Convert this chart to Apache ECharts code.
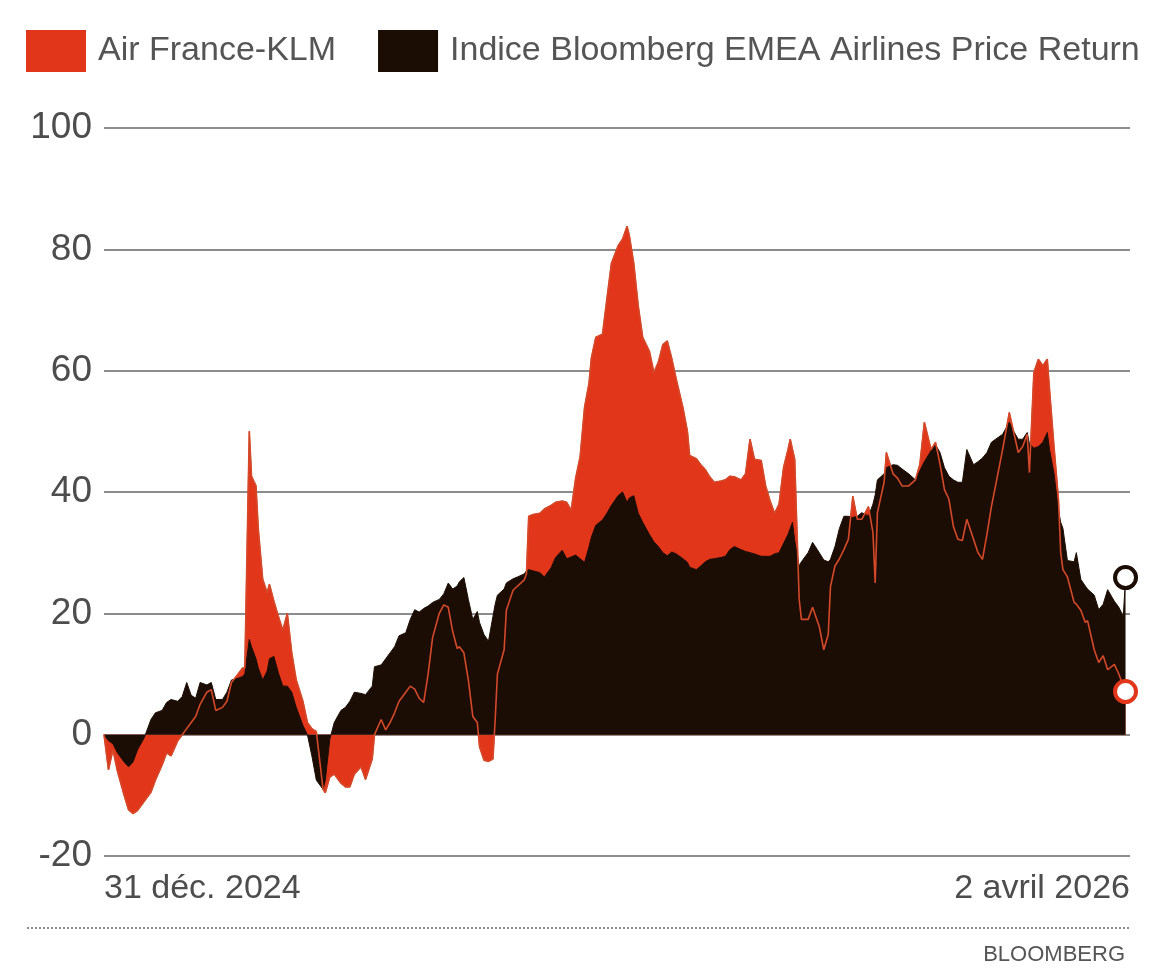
<!DOCTYPE html>
<html>
<head>
<meta charset="utf-8">
<script src="https://cdn.jsdelivr.net/npm/echarts@6/dist/echarts.min.js"></script>
<style>
  html, body { margin: 0; padding: 0; background: #fff; }
  #chart { width: 1149px; height: 969px; }
</style>
</head>
<body>
<div id="chart"></div>
<script>
// jours depuis le 31 déc. 2024
var days = [
  0,2,4,6,9,11,13,15,18,21,
  23,26,28,30,33,35,37,39,41,43,
  46,48,50,53,55,57,60,62,63,65,
  66,68,69,71,73,74,76,78,80,82,
  84,86,89,91,93,95,98,99,101,103,
  106,108,110,112,115,117,120,121,124,126,
  128,130,132,135,137,139,141,143,145,147,
  150,152,154,156,158,159,161,163,165,167,
  168,170,172,174,175,176,179,180,183,185,
  188,189,190,192,195,197,200,202,205,207,
  209,211,213,215,217,218,220,223,225,227,
  230,232,234,235,237,239,241,244,246,248,
  250,252,254,256,259,261,262,265,267,269,
  271,273,276,278,280,282,285,287,289,291,
  294,296,298,300,302,304,306,307,308,309,
  311,312,315,317,320,322,324,325,327,329,
  331,333,335,337,339,342,344,345,346,349,
  350,353,355,357,360,363,365,367,370,372,
  374,376,378,380,382,384,386,389,391,393,
  395,397,400,402,405,407,409,411,413,414,
  416,418,420,422,423,425,427,428,429,431,
  434,435,437,439,440,443,445,447,449,452,
  454,456,457
]

// Air France-KLM, variation en %
var afKlm = [
  0,-5.8,-2.5,-6,-10,-12.4,-13,-12.5,-11,-9.5,
  -7.5,-5,-3,-3.5,-1,0,1,2,3,5,
  7,7.4,4,4.5,5.5,8.6,10,11,11,50,
  42.6,41,34,25.6,23.4,24.8,22,19.5,17.2,20,
  13.5,9,5.5,2,1,0.5,-9,-9.6,-7,-6.5,
  -8,-8.6,-8.6,-6.5,-5.3,-7.4,-4,0,2.5,0.8,
  2,3.6,5.5,7,8,7.5,6,5.3,10,16,
  20,21.4,21,17,14.2,14.5,13.5,9,3,2,
  -2,-4.2,-4.4,-4,2.5,10,14,20.5,23.8,24.5,
  25.5,26.5,36,36.3,36.5,37.2,37.8,38.3,38.5,38.3,
  37,42.3,45.8,54,58,62,65.5,66,71.9,77.7,
  80.6,81.7,83.8,82.3,77.7,70.7,65.5,63.2,59.7,61.4,
  64.3,64.9,62,58.6,53.9,50,46,45.5,44.5,43.7,
  42.5,41.6,41.8,42,42.6,42.5,42,43,48.7,45.4,
  45.2,41,38.5,36.5,38,44,47,48.7,47,45.4,
  22.3,19,19,21,17.8,14,16.5,24.4,27.8,29,
  30.5,32.2,39.3,35.5,35.5,37.6,33.3,25,36.6,41.6,
  46.5,43,42.3,41,41,42,44.6,51.5,47,48.2,
  44.6,40.4,38.8,34.3,32.2,32,35.5,32.2,30,28.9,
  33,37.6,43.2,47,53.1,49.8,46.5,47.5,49.5,43.2,
  59.7,61.9,60.8,61.9,56.9,47.5,38.8,30,27.2,26,
  21.8,21.5,20.5,18.5,18.8,14,11.9,13,10.7,11.6,
  10,8,7.1
]

// Indice Bloomberg EMEA Airlines Price Return, variation en %
var bbgIndex = [
  0,-1,-1.5,-3,-4.5,-5.3,-4.5,-2.5,-0.5,2.5,
  3.6,4,5.3,5.8,5.5,6.3,8.6,6.5,6,8.6,
  8.2,8.6,5.8,5.8,7,9,9.3,9.6,10,15.7,
  14.5,12.5,11,9,10.5,12.5,12.9,10.2,8,8,
  7,4.5,1.5,0,-3.5,-7.5,-9,-7.5,-0.8,2,
  4,4.5,5.5,7,6.8,6.6,8,11.2,11.5,12.5,
  13.5,14.5,16.3,16.8,19,20.6,20.2,20.8,21.2,21.8,
  22.3,23.2,25,24,24.5,25.2,25.9,22.3,19,20.3,
  18.5,16.5,15.4,19.5,21.5,23,24,25,25.7,26,
  26.5,27,27.2,27,26.7,26,27.5,29.2,30.4,29,
  29.3,29.6,29,28.4,31,32.5,34.5,35.4,36.5,37.8,
  39.4,40,38.3,39,39.4,36.5,35,33,31.8,31,
  30,29.5,30.1,29.8,29,28.4,27.6,27.2,27.8,28.5,
  28.9,29,29.2,29.4,30.5,31,30.5,30.2,30,29.8,
  29.4,29.4,29.4,29.8,30,31.5,33,34,35,32,
  27.8,28.5,30,31.7,30,28.8,28.5,28.9,31,34,
  36,36,35.8,36,36.6,36,38,39.5,42,43,
  44,44.5,44.4,43.8,43,42,43.5,45,46.8,47.8,
  46.5,44,42.6,42,41.6,41.6,47,44.5,45,45.6,
  46.5,48.2,49,49.5,51.5,50,48.7,48.7,49.8,48,
  47.2,47.5,48.2,49.8,47,43,37,35,34,28.7,
  28.5,30,25.6,24.5,24,23,20.6,21.5,23.9,22,
  21,19.5,25.9
]

var dateLabels = ['31 déc. 2024', '2 avril 2026']
var yTicks = { min: -20, max: 100, step: 20 }

var RED = '#e2361b'
var DARK = '#1c0d04'
var FONT = '"Liberation Sans", Arial, sans-serif'

function pairs(vals) {
  return days.map(function(d, i) { return [d, vals[i]] })
}
var last = days.length - 1

var chart = echarts.init(document.getElementById('chart'))
chart.setOption({
  animation: false,
  backgroundColor: '#fff',
  legend: {
    left: 26,
    top: 30,
    padding: 0,
    icon: 'rect',
    itemWidth: 60,
    itemHeight: 42,
    itemGap: 42,
    selectedMode: false,
    textStyle: { fontSize: 34, color: '#555', fontFamily: FONT, padding: [0, 0, 0, 7] },
    data: [
      { name: 'Air France-KLM', itemStyle: { color: RED } },
      { name: 'Indice Bloomberg EMEA Airlines Price Return', itemStyle: { color: DARK } }
    ]
  },
  grid: { left: 104, right: 19, top: 128, bottom: 113, containLabel: false },
  xAxis: {
    type: 'value',
    min: 0,
    max: 459,
    interval: 459,
    axisLine: { show: false },
    axisTick: { show: false },
    splitLine: { show: false },
    axisLabel: {
      margin: 16,
      fontSize: 34,
      color: '#4d4d4d',
      fontFamily: FONT,
      alignMinLabel: 'left',
      alignMaxLabel: 'right',
      formatter: function(v) { return v === 0 ? dateLabels[0] : dateLabels[1] }
    }
  },
  yAxis: {
    type: 'value',
    min: yTicks.min,
    max: yTicks.max,
    interval: yTicks.step,
    axisLine: { show: false },
    axisTick: { show: false },
    axisLabel: { margin: 12, fontSize: 37, color: '#4d4d4d', fontFamily: FONT },
    splitLine: { lineStyle: { color: '#8c8c8c', width: 2 } }
  },
  series: [
    {
      name: 'Air France-KLM',
      type: 'line',
      data: pairs(afKlm),
      symbol: 'none',
      z: 2,
      lineStyle: { color: RED, width: 1 },
      areaStyle: { color: RED, opacity: 1 }
    },
    {
      name: 'Indice Bloomberg EMEA Airlines Price Return',
      type: 'line',
      data: pairs(bbgIndex),
      symbol: 'none',
      z: 3,
      lineStyle: { color: DARK, width: 1 },
      areaStyle: { color: DARK, opacity: 1 }
    },
    {
      // trait Air France-KLM visible par-dessus l'indice
      name: 'afLine',
      type: 'line',
      data: pairs(afKlm),
      symbol: 'none',
      z: 4,
      lineStyle: { color: '#d4492a', width: 1.6 }
    },
    {
      name: 'bbgEnd',
      type: 'scatter',
      z: 5,
      symbolSize: 21,
      data: [[days[last], bbgIndex[last]]],
      itemStyle: { color: '#fff', borderColor: DARK, borderWidth: 4, opacity: 1 }
    },
    {
      name: 'afEnd',
      type: 'scatter',
      z: 5,
      symbolSize: 21,
      data: [[days[last], afKlm[last]]],
      itemStyle: { color: '#fff', borderColor: RED, borderWidth: 4, opacity: 1 }
    }
  ],
  graphic: [
    {
      type: 'line',
      shape: { x1: 27, y1: 928, x2: 1130, y2: 928 },
      style: { stroke: '#8a8a8a', lineWidth: 2, lineDash: [2, 2] }
    },
    {
      type: 'text',
      right: 24,
      top: 944,
      style: { text: 'BLOOMBERG', fontSize: 22, fill: '#555', fontFamily: FONT }
    }
  ]
})
</script>
</body>
</html>
